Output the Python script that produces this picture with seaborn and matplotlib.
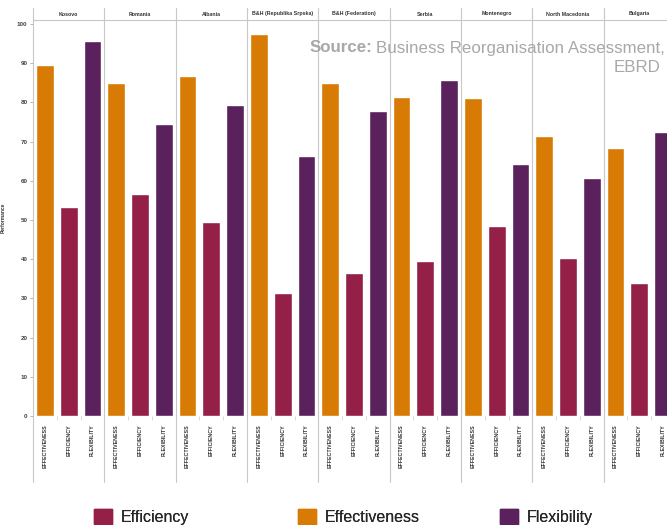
import matplotlib
matplotlib.use("Agg")
import matplotlib.pyplot as plt
from matplotlib.lines import Line2D
from matplotlib.patches import Patch
import seaborn as sns
import pandas as pd

countries = ["Kosovo", "Romania", "Albania", "B&H (Republika Srpska)", "B&H (Federation)",
             "Serbia", "Montenegro", "North Macedonia", "Bulgaria"]
metrics = ["EFFECTIVENESS", "EFFICIENCY", "FLEXIBILITY"]
effectiveness = [89.6, 85.0, 86.8, 97.4, 85.0, 81.3, 81.2, 71.5, 68.3]
efficiency = [53.2, 56.5, 49.4, 31.3, 36.4, 39.5, 48.4, 40.4, 33.8]
flexibility = [95.6, 74.6, 79.4, 66.4, 77.9, 85.6, 64.2, 60.6, 72.4]
y_ticks = [0, 10, 20, 30, 40, 50, 60, 70, 80, 90, 100]
legend_labels = ["Efficiency", "Effectiveness", "Flexibility"]

colors = {"EFFECTIVENESS": "#D87B05", "EFFICIENCY": "#941F47", "FLEXIBILITY": "#5A215D"}

rows = []
for i, c in enumerate(countries):
    for m, vals in zip(metrics, [effectiveness, efficiency, flexibility]):
        rows.append({"slot": f"{i}_{m}", "metric": m, "value": vals[i], "country": c})
df = pd.DataFrame(rows)

sns.set_style("white")
plt.rcParams["font.family"] = ["Liberation Sans", "DejaVu Sans"]

W, H = 667, 525
fig = plt.figure(figsize=(W / 100, H / 100), dpi=100)
n = len(countries)
panel_w = 71.33
left_px, top_px, bottom_px = 33, 20, 416
ax = fig.add_axes([left_px / W, 1 - bottom_px / H, n * panel_w / W, (bottom_px - top_px) / H])

sns.barplot(data=df, x="slot", y="value", hue="metric", palette=colors, dodge=False,
            width=0.75, ax=ax, legend=False, saturation=1)

ax.set_ylim(0, 101)
ax.set_xlim(-0.5, 3 * n - 0.5)
ax.set_yticks(y_ticks)
ax.set_yticklabels([str(t) for t in y_ticks], fontsize=4.5, fontweight="bold", color="#444444")
ax.set_xticks(range(3 * n))
ax.set_xticklabels(metrics * n, rotation=90, fontsize=3.8, color="#333333", va="top",
                   fontweight="bold")
ax.tick_params(axis="x", length=0, pad=6)
ax.tick_params(axis="y", length=2, width=0.5, color="#999999", pad=2, left=True)
ax.set_xticks([x + 0.5 for x in range(3 * n - 1)], minor=True)
ax.tick_params(axis="x", which="minor", length=3, width=0.4, color="#BBBBBB", bottom=True)
ax.set_xlabel("")
ax.set_ylabel("Performance", fontsize=3.5, fontweight="bold", color="#333333", labelpad=8)
for s in ["right", "bottom", "top", "left"]:
    ax.spines[s].set_visible(False)

# panel separators and header
for k in range(n + 1):
    xpx = left_px + k * panel_w
    fig.add_artist(Line2D([xpx / W, xpx / W], [1 - 8 / H, 1 - 482 / H],
                          color="#C8C8C8", lw=0.8))
fig.add_artist(Line2D([left_px / W, 1.0], [1 - top_px / H, 1 - top_px / H],
                      color="#C8C8C8", lw=0.8))
for i, c in enumerate(countries):
    cx = left_px + (i + 0.5) * panel_w
    fig.text(cx / W, 1 - 14 / H, c, fontsize=3.8, fontweight="bold", color="#333333",
             ha="center", va="center")

# source
src_color = "#A8A8A8"
src_fs = 12.2
t_main = fig.text(665 / W, 1 - 48 / H, "Business Reorganisation Assessment,",
                  fontsize=src_fs, color=src_color, ha="right", va="center")
renderer = fig.canvas.get_renderer()
bb = t_main.get_window_extent(renderer=renderer)
fig.text((bb.x0 - 4) / W, 1 - 48 / H, "Source:", fontsize=src_fs, color=src_color,
         ha="right", va="center", fontweight="bold")
fig.text(660 / W, 1 - 68 / H, "EBRD", fontsize=src_fs, color=src_color, ha="right", va="center")

# legend
leg_colors = [colors["EFFICIENCY"], colors["EFFECTIVENESS"], colors["FLEXIBILITY"]]
for lab, col, xpx in zip(legend_labels, leg_colors, [86, 290, 492]):
    lg = fig.legend(handles=[Patch(facecolor=col, edgecolor=col)], labels=[lab],
                    loc="center left", bbox_to_anchor=(xpx / W, 1 - 517 / H),
                    frameon=False, fontsize=11.5, handlelength=1.1, handleheight=1.1,
                    handletextpad=0.6, borderpad=0)
    fig.add_artist(lg)

fig.savefig("out.png", dpi=100)
